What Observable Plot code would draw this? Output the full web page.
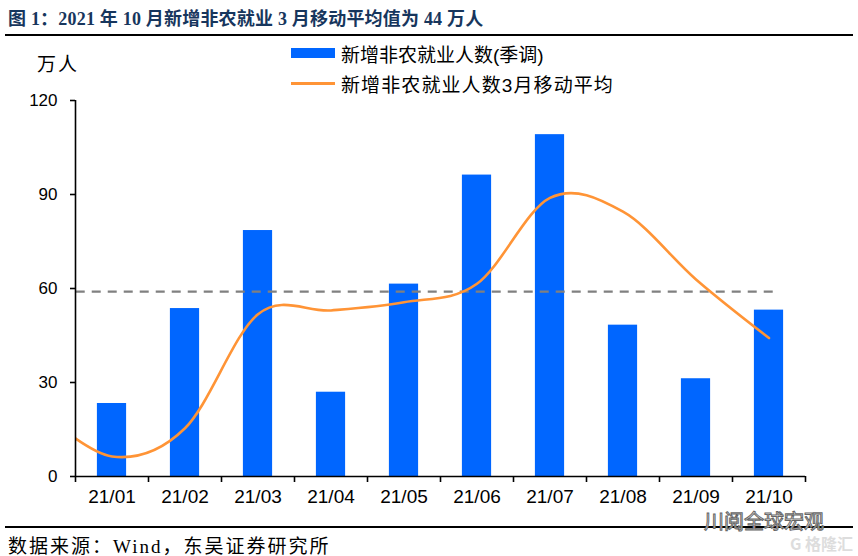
<!DOCTYPE html>
<html>
<head>
<meta charset="utf-8">
<script src="https://cdn.jsdelivr.net/npm/d3@7"></script>
<script src="https://cdn.jsdelivr.net/npm/@observablehq/plot@0.6"></script>
<style>
  html, body { margin: 0; padding: 0; background: #fff; }
  #page { position: relative; width: 858px; height: 556px; overflow: hidden; background: #fff; }
  .abs { position: absolute; white-space: nowrap; }
  #title { left: 8px; top: 4px; font: bold 18px "Liberation Serif", "Noto Sans CJK SC", serif; color: #17365d; letter-spacing: 0.2px; }
  .rule { position: absolute; left: 5px; width: 848px; height: 2px; background: #000; }
  #caption { left: 8px; top: 531px; font: 19px "Liberation Serif", "Noto Sans CJK SC", serif; color: #000; letter-spacing: 2px; }
  #unit { left: 37px; top: 49px; font: 19px "Noto Sans CJK SC", sans-serif; color: #000; letter-spacing: 2px; }
  #chart { position: absolute; left: 0; top: 40px; }
  .leg { font: 19px "Liberation Sans", "Noto Sans CJK SC", sans-serif; color: #000; }
  #wm1 { left: 704px; top: 512px; font: 20px "Noto Sans CJK SC", sans-serif; line-height: 17px; color: #fff; -webkit-text-stroke: 1px #666; }
  #wm2 { left: 790px; top: 535px; font: bold 16px "Noto Sans CJK SC", sans-serif; line-height: 17px; color: #ddd; }
</style>
</head>
<body>
<div id="page">
  <div id="title" class="abs">图 1：2021 年 10 月新增非农就业 3 月移动平均值为 44 万人</div>
  <div class="rule" style="top:34px"></div>
  <div id="unit" class="abs">万人</div>
  <div id="chart"></div>
  <div class="abs" style="left:291px;top:48px;width:44px;height:10px;background:#0066ff"></div>
  <div class="abs leg" style="left:341px;top:40px">新增非农就业人数(季调)</div>
  <div class="abs" style="left:291px;top:82px;width:44px;height:3px;background:#ff9436"></div>
  <div class="abs leg" style="left:341px;top:70px;letter-spacing:1.1px">新增非农就业人数3月移动平均</div>
  <div class="rule" style="top:526px"></div>
  <div id="caption" class="abs">数据来源：Wind，东吴证券研究所</div>
  <div id="wm1" class="abs">川阅全球宏观</div>
  <div id="wm2" class="abs">G 格隆汇</div>
</div>
<script>
// Month labels (categories)
const months = ["21/01", "21/02", "21/03", "21/04", "21/05", "21/06", "21/07", "21/08", "21/09", "21/10"];
// Nonfarm payrolls, seasonally adjusted (万人)
const payrolls = [23.3, 53.6, 78.5, 26.9, 61.4, 96.2, 109.1, 48.3, 31.2, 53.1];
// 3-month moving average (万人), starting one month earlier (20/12)
const maMonths = ["20/12", "21/01", "21/02", "21/03", "21/04", "21/05", "21/06", "21/07", "21/08", "21/09", "21/10"];
const maValues = [21.3, 6.4, 15.4, 51.8, 53.0, 55.6, 61.5, 88.9, 84.5, 62.9, 44.2];
// Reference dashed level (万人)
const refLevel = [59];
// Y tick values
const yTicks = [0, 30, 60, 90, 120];

const bars = months.map((m, i) => ({m, i, v: payrolls[i]}));
const ma = maMonths.map((m, k) => ({m, i: k - 1, v: maValues[k]}));
const boundaries = d3.range(months.length + 1).map(k => k - 0.5);
const centers = d3.range(months.length);

const chart = Plot.plot({
  width: 858,
  height: 478,
  marginTop: 60,
  marginBottom: 42,
  marginLeft: 75,
  marginRight: 53,
  style: {fontFamily: "'Liberation Sans', Arial, sans-serif", color: "#000", background: "transparent"},
  x: {type: "linear", domain: [-0.5, months.length - 0.5], label: null},
  y: {domain: [0, 120], label: null},
  marks: [
    Plot.rectY(bars, {x1: d => d.i - 0.2, x2: d => d.i + 0.2, y: "v", fill: "#0066ff"}),
    Plot.ruleY(refLevel, {x1: -0.49, x2: 9.1, stroke: "#808080", strokeWidth: 2.2, strokeDasharray: "9,7"}),
    Plot.line(ma, {x: "i", y: "v", curve: "cardinal", stroke: "#ff9436", strokeWidth: 2.6, clip: true}),
    Plot.ruleX([-0.5], {y1: 0, y2: 120, stroke: "#000", strokeWidth: 1.6}),
    Plot.ruleY([0], {stroke: "#000", strokeWidth: 1.6}),
    Plot.axisY({ticks: yTicks, tickSize: 5, tickPadding: 13, fontSize: 17, stroke: "#000", strokeWidth: 1.6, label: null}),
    Plot.axisX({ticks: boundaries, tickSize: 6, tickFormat: () => "", stroke: "#000", strokeWidth: 1.6, label: null}),
    Plot.axisX({ticks: centers, tickSize: 0, tickPadding: 13, tickFormat: i => months[i], fontSize: 19, label: null})
  ]
});
document.getElementById("chart").appendChild(chart);
</script>
</body>
</html>
